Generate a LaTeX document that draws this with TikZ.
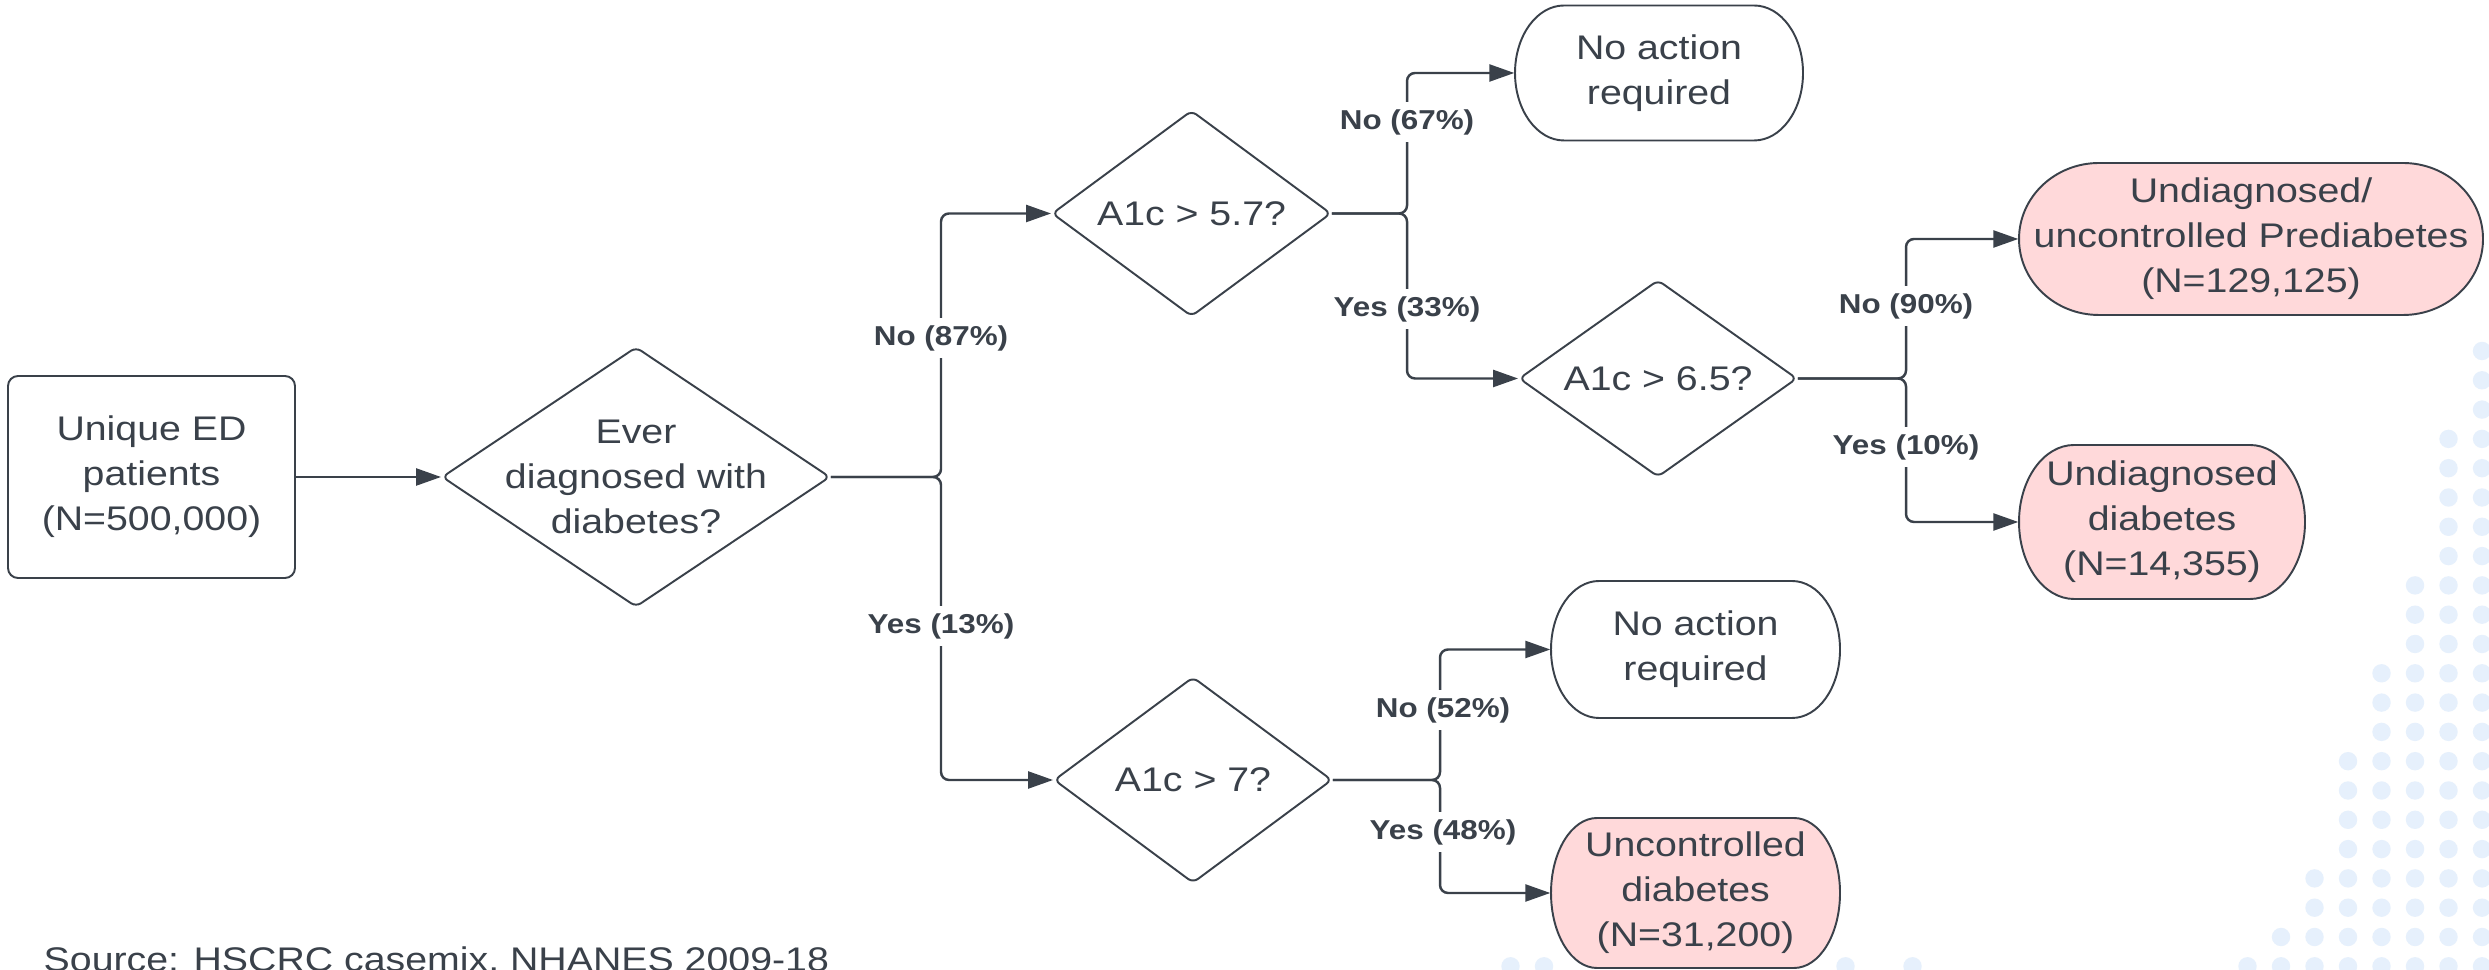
\documentclass[tikz,border=0pt]{standalone}
\usepackage{fontspec}
\setmainfont{Liberation Sans}[FakeStretch=1.15]
\usetikzlibrary{arrows.meta,shapes.geometric}
\definecolor{ink}{HTML}{3A414A}
\definecolor{pinkfill}{HTML}{FFD9DA}
\definecolor{dotblue}{HTML}{E6F0FC}
% terminal outline with elliptical ends: #1 cx, #2 cy (px), #3 width mm, #4 height mm, #5 end radius mm, #6 fill
\newcommand{\termshape}[6]{%
  \pgfmathsetmacro{\thh}{#4/2}%
  \pgfmathsetmacro{\tsx}{#3/2-#5}%
  \path[draw=ink, line width=0.55pt, fill=#6, shift={(#1,#2)}]
    (-\tsx mm,\thh mm) -- (\tsx mm,\thh mm)
    arc[start angle=90,end angle=-90,x radius=#5mm,y radius=\thh mm]
    -- (-\tsx mm,-\thh mm)
    arc[start angle=270,end angle=90,x radius=#5mm,y radius=\thh mm] -- cycle;}
\begin{document}
\begin{tikzpicture}[x=0.1mm,y=-0.1mm,
  every node/.style={text=ink},
  maintext/.style={font=\fontsize{9.72pt}{12.8pt}\selectfont, align=center},
  procbox/.style={draw=ink, line width=0.55pt, rounded corners=1mm, inner sep=0pt, maintext},
  decision/.style={draw=ink, line width=0.55pt, shape=diamond, rounded corners=0.6mm, inner sep=0pt},
  terminal/.style={inner sep=0pt, maintext},
  conn/.style={draw=ink, line width=0.7pt, rounded corners=0.8mm, -{Triangle[length=2.5mm,width=1.7mm]}},
  branchlabel/.style={fill=white, inner xsep=1pt, inner ysep=2.2pt, font=\bfseries\fontsize{7.77pt}{9pt}\selectfont}
]
\fill[white] (0,0) rectangle (2489,970);
\useasboundingbox (0,0) rectangle (2489,970);

% background dots
\foreach \n/\ks in {0/0,1/3,2/8,3/11,4/14,5/18,6/20,7/21}{
  \foreach \k in {\ks,...,21}{
    \fill[dotblue] ({2482-33.5*\n},{351+29.3*\k}) circle[radius=9.2];
  }
}
\foreach \n in {17,19,28,29}{
  \fill[dotblue] ({2482-33.5*\n},{351+29.3*21}) circle[radius=9.2];
}

% terminal outlines
\termshape{1659}{73}{28.8}{13.5}{4.9}{white}
\termshape{2251}{239}{46.4}{15.2}{8.0}{pinkfill}
\termshape{2162}{522}{28.6}{15.4}{5.5}{pinkfill}
\termshape{1695.5}{649.5}{28.9}{13.7}{4.8}{white}
\termshape{1695.5}{893}{28.9}{15.0}{4.6}{pinkfill}

% nodes
\node[procbox, minimum width=28.7mm, minimum height=20.2mm] (start) at (151.5,477) {Unique ED\\patients\\(N=500,000)};
\node[decision, minimum width=38.8mm, minimum height=26mm,
      label={[maintext]center:Ever\\diagnosed with\\diabetes?}] (ever) at (636,477) {};
\node[decision, minimum width=27.9mm, minimum height=20.6mm,
      label={[maintext]center:A1c > 5.7?}] (q57) at (1191.5,213.5) {};
\node[decision, minimum width=27.8mm, minimum height=19.7mm,
      label={[maintext]center:A1c > 6.5?}] (q65) at (1658,378.5) {};
\node[decision, minimum width=27.8mm, minimum height=20.6mm,
      label={[maintext]center:A1c > 7?}] (q7) at (1193,780) {};

\node[terminal, minimum width=28.8mm, minimum height=13.5mm] (noact1) at (1659,73) {No action\\required};
\node[terminal, minimum width=46.4mm, minimum height=15.2mm] (prediab) at (2251,239) {Undiagnosed/\\uncontrolled Prediabetes\\(N=129,125)};
\node[terminal, minimum width=28.6mm, minimum height=15.4mm] (undiag) at (2162,522) {Undiagnosed\\diabetes\\(N=14,355)};
\node[terminal, minimum width=28.9mm, minimum height=13.7mm] (noact2) at (1695.5,649.5) {No action\\required};
\node[terminal, minimum width=28.9mm, minimum height=15mm] (uncontr) at (1695.5,893) {Uncontrolled\\diabetes\\(N=31,200)};

% junction points
\coordinate (j1) at (941,477);
\coordinate (j2) at (1407,213.5);
\coordinate (j3) at (1906,378.5);
\coordinate (j4) at (1440,780);

% connectors
\draw[conn] (start.east) -- (ever.west);
\draw[conn] (ever.east) -- (j1) |- (q57.west);
\draw[conn] (ever.east) -- (j1) |- (q7.west);
\draw[conn] (q57.east) -- (j2) |- (noact1.west);
\draw[conn] (q57.east) -- (j2) |- (q65.west);
\draw[conn] (q65.east) -- (j3) |- (prediab.west);
\draw[conn] (q65.east) -- (j3) |- (undiag.west);
\draw[conn] (q7.east) -- (j4) |- (noact2.west);
\draw[conn] (q7.east) -- (j4) |- (uncontr.west);

% branch labels
\node[branchlabel] (l87) at (941,338) {No (87\%)};
\node[branchlabel] (l13) at (941,626) {Yes (13\%)};
\node[branchlabel] (l67) at (1407,122) {No (67\%)};
\node[branchlabel] (l33) at (1407,309) {Yes (33\%)};
\node[branchlabel] (l90) at (1906,306) {No (90\%)};
\node[branchlabel] (l10) at (1906,447) {Yes (10\%)};
\node[branchlabel] (l52) at (1443,710) {No (52\%)};
\node[branchlabel] (l48) at (1443,832) {Yes (48\%)};

% source
\node[maintext, anchor=base west, inner sep=0pt] (src) at (43,972) {Source: HSCRC casemix, NHANES 2009-18};
\end{tikzpicture}
\end{document}
